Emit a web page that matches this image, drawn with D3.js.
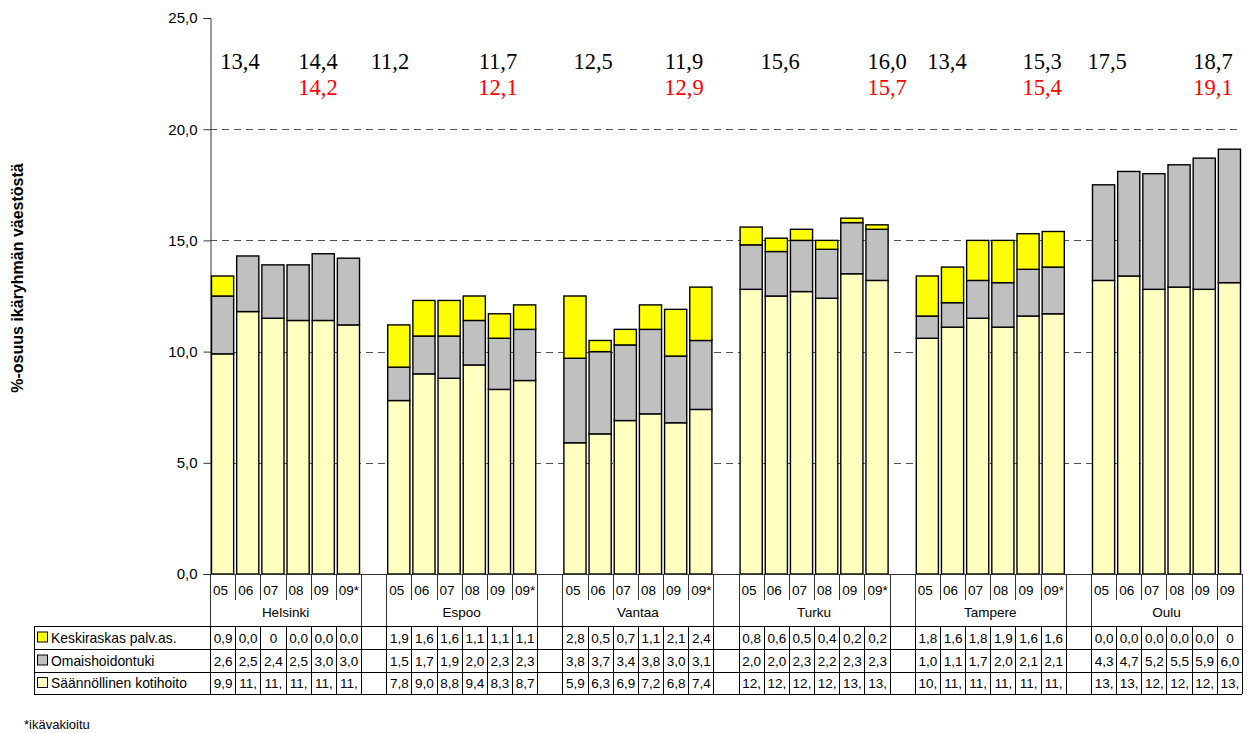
<!DOCTYPE html>
<html><head><meta charset="utf-8">
<script src="https://cdn.jsdelivr.net/npm/d3@7"></script>
<style>body{margin:0;background:#fff}svg{display:block}text{font-family:Arial,"Liberation Sans",sans-serif}</style>
</head><body>
<svg id="c" width="1247" height="733"></svg>
<script>
const cities = ["Helsinki","Espoo","Vantaa","Turku","Tampere","Oulu"];
const yearLabels = [
  ["05","06","07","08","09","09*"],["05","06","07","08","09","09*"],["05","06","07","08","09","09*"],
  ["05","06","07","08","09","09*"],["05","06","07","08","09","09*"],["05","06","07","08","09","09"]];
const seriesNames = ["Keskiraskas palv.as.","Omaishoidontuki","Säännöllinen kotihoito"];
// Säännöllinen kotihoito
const saannollinen = [
  [9.9,11.8,11.5,11.4,11.4,11.2],
  [7.8,9.0,8.8,9.4,8.3,8.7],
  [5.9,6.3,6.9,7.2,6.8,7.4],
  [12.8,12.5,12.7,12.4,13.5,13.2],
  [10.6,11.1,11.5,11.1,11.6,11.7],
  [13.2,13.4,12.8,12.9,12.8,13.1]];
// Omaishoidontuki
const omaishoito = [
  [2.6,2.5,2.4,2.5,3.0,3.0],
  [1.5,1.7,1.9,2.0,2.3,2.3],
  [3.8,3.7,3.4,3.8,3.0,3.1],
  [2.0,2.0,2.3,2.2,2.3,2.3],
  [1.0,1.1,1.7,2.0,2.1,2.1],
  [4.3,4.7,5.2,5.5,5.9,6.0]];
// Keskiraskas palveluasuminen
const keskiraskas = [
  [0.9,0.0,0.0,0.0,0.0,0.0],
  [1.9,1.6,1.6,1.1,1.1,1.1],
  [2.8,0.5,0.7,1.1,2.1,2.4],
  [0.8,0.6,0.5,0.4,0.2,0.2],
  [1.8,1.6,1.8,1.9,1.6,1.6],
  [0.0,0.0,0.0,0.0,0.0,0.0]];
const keskiraskasText = [
  ["0,9","0,0","0","0,0","0,0","0,0"],
  ["1,9","1,6","1,6","1,1","1,1","1,1"],
  ["2,8","0,5","0,7","1,1","2,1","2,4"],
  ["0,8","0,6","0,5","0,4","0,2","0,2"],
  ["1,8","1,6","1,8","1,9","1,6","1,6"],
  ["0,0","0,0","0,0","0,0","0,0","0"]];
// annotations: totals (black) and age-standardised (red)
const totalFirst = ["13,4","11,2","12,5","15,6","13,4","17,5"];
const totalLast  = ["14,4","11,7","11,9","16,0","15,3","18,7"];
const totalAdj   = ["14,2","12,1","12,9","15,7","15,4","19,1"];
const yTicks = [0,5,10,15,20,25];
// annotation placement in slot units (layout)
const annFirstPos = [1.19,7.15,15.22,22.65,29.28,35.64];
const annLastPos  = [4.29,11.44,18.83,26.90,33.06,39.85];

const colors = {"Säännöllinen kotihoito":"#FFFFC0","Omaishoidontuki":"#C0C0C0","Keskiraskas palv.as.":"#FFFF00"};

const svg = d3.select("#c");
const L = 210, R = 1242, T = 18, B = 574;
const nSlots = cities.length*7 - 1;
const slot = (g,j) => g*7 + j;
const x = d3.scaleBand().domain(d3.range(nSlots)).range([L,R]).paddingInner(0.12).paddingOuter(0.06);
const edge = d3.scaleLinear().domain([0,nSlots]).range([L,R]);
const y = d3.scaleLinear().domain([0,25]).range([B,T]);
const fmt = v => { const s = d3.format(".1f")(v).replace(".",","); return s.length>3 ? s.slice(0,3) : s; };

// gridlines
svg.append("g").selectAll("line").data(yTicks.filter(t=>t>0&&t<25)).join("line")
  .attr("x1",L).attr("x2",R).attr("y1",d=>Math.round(y(d))+0.5).attr("y2",d=>Math.round(y(d))+0.5)
  .attr("stroke","#555").attr("stroke-dasharray","7,5");

// y axis
const ya = svg.append("g").attr("transform",`translate(${L+0.5},0)`)
  .call(d3.axisLeft(y).tickValues(yTicks).tickFormat(d=>d3.format(".1f")(d).replace(".",",")).tickSize(7).tickPadding(6));
ya.select(".domain").attr("stroke","#333");
ya.selectAll(".tick line").attr("stroke","#333");
ya.selectAll("text").attr("font-size",15).attr("fill","#000").style("font-family","Arial");

svg.append("text").attr("transform","translate(23,278) rotate(-90)").attr("text-anchor","middle")
  .attr("font-size",16).attr("font-weight","bold").text("%-osuus ikäryhmän väestöstä");

// bars
const rows = [];
cities.forEach((c,g)=>{ for(let j=0;j<6;j++){
  const s = saannollinen[g][j], o = omaishoito[g][j], k = keskiraskas[g][j];
  rows.push({slot:slot(g,j), segs:[
    {n:"Säännöllinen kotihoito",y0:0,y1:s},
    {n:"Omaishoidontuki",y0:s,y1:s+o},
    {n:"Keskiraskas palv.as.",y0:s+o,y1:s+o+k}]});
}});
const bars = svg.append("g");
rows.forEach(r=>{
  bars.selectAll(null).data(r.segs.filter(d=>d.y1-d.y0>0.001)).join("rect")
    .attr("x",x(r.slot)).attr("width",x.bandwidth())
    .attr("y",d=>y(d.y1)).attr("height",d=>y(d.y0)-y(d.y1))
    .attr("fill",d=>colors[d.n]).attr("stroke","#000").attr("stroke-width",1.4);
});

// category axis
const ax = svg.append("g");
ax.append("line").attr("x1",L).attr("x2",R).attr("y1",B+0.5).attr("y2",B+0.5).attr("stroke","#333");
cities.forEach((c,g)=>{
  for(let j=0;j<6;j++){
    const s = slot(g,j);
    ax.append("text").attr("x",edge(s)+3).attr("y",595).attr("font-size",13.5).text(yearLabels[g][j]);
    if(j>0) ax.append("line").attr("x1",Math.round(edge(s))+0.5).attr("x2",Math.round(edge(s))+0.5)
      .attr("y1",B).attr("y2",600).attr("stroke","#333");
  }
  [slot(g,0), slot(g,6)].forEach(s=>{
    if(s<=nSlots) ax.append("line").attr("x1",Math.round(edge(s))+0.5).attr("x2",Math.round(edge(s))+0.5)
      .attr("y1",B).attr("y2",626).attr("stroke","#333");
  });
  ax.append("text").attr("x",(edge(slot(g,0))+edge(slot(g,6)))/2).attr("y",617)
    .attr("text-anchor","middle").attr("font-size",13.5).text(c);
});

// data table
const tb = svg.append("g");
const rowY = [626,649,672,694];
rowY.forEach(yy=>tb.append("line").attr("x1",34).attr("x2",R).attr("y1",yy+0.5).attr("y2",yy+0.5).attr("stroke","#000"));
tb.append("line").attr("x1",34.5).attr("x2",34.5).attr("y1",rowY[0]).attr("y2",rowY[3]).attr("stroke","#000");
d3.range(nSlots+1).forEach(i=>tb.append("line").attr("x1",Math.round(edge(i))+0.5).attr("x2",Math.round(edge(i))+0.5)
  .attr("y1",rowY[0]).attr("y2",rowY[3]).attr("stroke","#000"));
const tableRows = [
  {n:"Keskiraskas palv.as.", text:(g,j)=>keskiraskasText[g][j]},
  {n:"Omaishoidontuki", text:(g,j)=>fmt(omaishoito[g][j])},
  {n:"Säännöllinen kotihoito", text:(g,j)=>fmt(saannollinen[g][j])}];
tableRows.forEach((r,i)=>{
  const cy = (rowY[i]+rowY[i+1])/2;
  tb.append("rect").attr("x",37.5).attr("y",cy-5.5).attr("width",10).attr("height",10)
    .attr("fill",colors[r.n]).attr("stroke","#000");
  tb.append("text").attr("x",51).attr("y",cy+5).attr("font-size",13.9).text(r.n);
  cities.forEach((c,g)=>{ for(let j=0;j<6;j++){
    const s = slot(g,j);
    tb.append("text").attr("x",(edge(s)+edge(s+1))/2+0.5).attr("y",cy+5).attr("text-anchor","middle")
      .attr("font-size",13.5).text(r.text(g,j));
  }});
});

// annotations
const an = svg.append("g");
const serif = "'Liberation Serif','Times New Roman',serif";
cities.forEach((c,g)=>{
  an.append("text").attr("x",edge(annFirstPos[g])).attr("y",69).attr("text-anchor","middle")
    .attr("font-size",22.5).style("font-family",serif).text(totalFirst[g]);
  an.append("text").attr("x",edge(annLastPos[g])).attr("y",69).attr("text-anchor","middle")
    .attr("font-size",22.5).style("font-family",serif).text(totalLast[g]);
  an.append("text").attr("x",edge(annLastPos[g])).attr("y",95).attr("text-anchor","middle")
    .attr("font-size",22.5).attr("fill","#FF0000").style("font-family",serif).text(totalAdj[g]);
});

svg.append("text").attr("x",24).attr("y",729).attr("font-size",13).text("*ikävakioitu");
</script>
</body></html>
